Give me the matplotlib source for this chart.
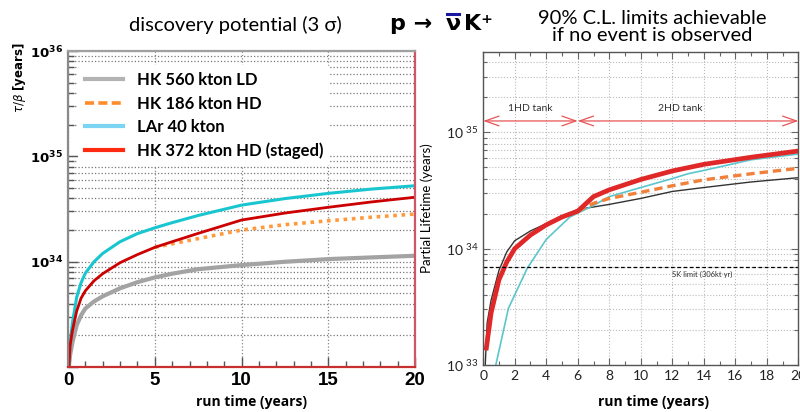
import matplotlib
matplotlib.use("Agg")
import matplotlib.pyplot as plt
from matplotlib.lines import Line2D
from matplotlib.ticker import LogLocator, NullFormatter, FixedLocator, MultipleLocator

# ---- left panel: discovery potential (3 sigma) ----
t_left = [0.05, 0.12, 0.25, 0.5, 0.75, 1, 1.5, 2, 3, 4, 5, 6, 7.5, 10, 12.5, 15, 17.5, 20]
hk560_ld = [1e33, 1.3e33, 1.7e33, 2.5e33, 3.1e33, 3.6e33, 4.2e33, 4.7e33, 5.6e33, 6.4e33,
            7.1e33, 7.7e33, 8.5e33, 9.3e33, 1.0e34, 1.06e34, 1.1e34, 1.14e34]
lar40 = [1e33, 1.7e33, 2.6e33, 4.6e33, 6.3e33, 7.8e33, 1.0e34, 1.2e34, 1.55e34, 1.85e34,
         2.1e34, 2.35e34, 2.75e34, 3.45e34, 3.98e34, 4.46e34, 4.9e34, 5.27e34]
hk372_staged = [1e33, 1.6e33, 2.2e33, 3.4e33, 4.5e33, 5.3e33, 6.6e33, 7.7e33, 9.8e33, 1.17e34,
                1.37e34, 1.55e34, 1.86e34, 2.49e34, 2.9e34, 3.29e34, 3.7e34, 4.1e34]
t_left_hd = [5, 6, 7.5, 10, 12.5, 15, 17.5, 20]
hk186_hd = [1.37e34, 1.48e34, 1.66e34, 2.0e34, 2.25e34, 2.45e34, 2.65e34, 2.84e34]

legend_labels = ["HK 560 kton LD", "HK 186 kton HD", "LAr 40 kton", "HK 372 kton HD (staged)"]

# ---- right panel: 90% C.L. limits ----
t_black = [0.13, 0.25, 0.5, 1, 1.5, 2, 3, 4, 5, 6, 7, 8, 10, 12, 14, 17, 20]
r_black = [1e33, 2.3e33, 3.6e33, 6.5e33, 9.4e33, 1.17e34, 1.42e34, 1.64e34, 1.9e34, 2.17e34,
           2.28e34, 2.4e34, 2.7e34, 3.1e34, 3.35e34, 3.74e34, 4.07e34]
t_red = [0.2, 0.5, 1, 1.5, 2, 3, 4, 5, 6, 7, 8, 10, 12, 14, 17, 20]
r_red = [1.4e33, 2.8e33, 5.4e33, 7.7e33, 1.0e34, 1.31e34, 1.6e34, 1.87e34, 2.1e34, 2.8e34,
         3.2e34, 3.93e34, 4.65e34, 5.3e34, 6.1e34, 6.9e34]
t_cyan = [0.8, 1.6, 2.8, 4, 5.5, 7, 8, 10, 12, 13, 14, 17, 20]
r_cyan = [1e33, 3.07e33, 6.8e33, 1.2e34, 1.87e34, 2.35e34, 2.8e34, 3.35e34, 4.0e34, 4.4e34,
          4.7e34, 5.8e34, 6.5e34]
t_orange = [6, 7, 8, 10, 12, 14, 17, 20]
r_orange = [2.1e34, 2.45e34, 2.7e34, 3.05e34, 3.47e34, 3.9e34, 4.4e34, 4.9e34]

sk_limit = 7e33
tank_split = 6
tank_arrow_y = 1.25e35
tank_label_y = 1.6e35

fig = plt.figure(figsize=(8, 4.12), dpi=100)
narrow = ['Liberation Sans Narrow', 'Liberation Sans', 'DejaVu Sans']
light = ['Lato', 'DejaVu Sans']

# ================= left =================
ax1 = fig.add_axes([0.085, 0.109, 0.434, 0.767])
ax1.plot(t_left, hk560_ld, color='#a3a3a3', lw=3)
ax1.plot(t_left_hd, hk186_hd, color='#ff9a3c', lw=2.6, ls=(0, (1, 1.3)))
ax1.plot(t_left, lar40, color='#19c6cf', lw=2.2)
ax1.plot(t_left, hk372_staged, color='#cc0000', lw=2.0)

ax1.set_yscale('log')
ax1.set_xlim(0, 20)
ax1.set_ylim(1e33, 1e36)
ax1.yaxis.set_major_locator(FixedLocator([1e33, 1e34, 1e35, 1e36]))
ax1.set_yticklabels(['', r'$\mathbf{10^{34}}$', r'$\mathbf{10^{35}}$', r'$\mathbf{10^{36}}$'])
ax1.yaxis.set_minor_locator(LogLocator(base=10, subs=range(2, 10)))
ax1.yaxis.set_minor_formatter(NullFormatter())
ax1.xaxis.set_major_locator(MultipleLocator(5))
ax1.xaxis.set_minor_locator(MultipleLocator(1))
ax1.tick_params(which='both', direction='in', colors='#555555', labelcolor='black')
ax1.tick_params(which='major', length=7, width=1)
ax1.tick_params(which='minor', length=4, width=1)
for lab in ax1.get_xticklabels():
    lab.set_fontfamily(narrow)
    lab.set_fontweight('bold')
    lab.set_fontsize(13.5)
for lab in ax1.get_yticklabels():
    lab.set_fontsize(9.5)
ax1.grid(which='major', axis='x', ls=':', color='#888888', lw=0.9)
ax1.grid(which='both', axis='y', ls=':', color='#777777', lw=0.9)
ax1.spines['left'].set_color('#8a8a8a')
ax1.spines['top'].set_color('#a0a0a0')
ax1.spines['right'].set_color('#d05565')
ax1.spines['bottom'].set_color('#c83030')
for s in ax1.spines.values():
    s.set_linewidth(1.6)

handles = [Line2D([], [], color='#b3b3b3', lw=3),
           Line2D([], [], color='#ff8c2a', lw=2.6, ls=(0, (2.5, 1.2))),
           Line2D([], [], color='#7dd4f2', lw=3),
           Line2D([], [], color='#ff2a12', lw=3)]
leg = ax1.legend(handles, legend_labels, loc='upper left', bbox_to_anchor=(0.02, 0.965),
                 frameon=True, facecolor='white', edgecolor='none', framealpha=1,
                 prop={'weight': 'bold', 'size': 12, 'family': light}, handlelength=2.3,
                 labelspacing=0.45, borderaxespad=0.2)

fig.text(0.024, 1 - 78 / 412, r'$\tau/\beta$ [years]', rotation=90, ha='center', va='center',
         fontsize=8.5, fontweight='bold')
fig.text(0.315, 0.025, 'run time (years)', ha='center', va='center', fontsize=10,
         fontweight='bold', family=['Open Sans', 'DejaVu Sans'])
fig.text(235 / 800, 1 - 25 / 412, 'discovery potential (3 σ)', ha='center', va='center',
         fontsize=14.5, family=light)

# center title p -> nu-bar K+
fig.text(390 / 800, 1 - 24 / 412, 'p → ', ha='left', va='center', fontsize=16, fontweight='bold')
fig.text(453 / 800, 1 - 24 / 412, 'ν', ha='center', va='center', fontsize=16, fontweight='bold')
fig.text(464 / 800, 1 - 24 / 412, 'K⁺', ha='left', va='center', fontsize=16, fontweight='bold')
fig.add_artist(Line2D([447 / 800, 459 / 800], [1 - 14 / 412, 1 - 14 / 412],
                      transform=fig.transFigure, color='#1a1aa0', lw=2.2))

# ================= right =================
ax2 = fig.add_axes([0.604, 0.114, 0.394, 0.760])
ax2.plot(t_black, r_black, color='#333333', lw=1.0)
ax2.plot(t_cyan, r_cyan, color='#5cc6cc', lw=1.2)
ax2.plot(t_orange, r_orange, color='#f0803a', lw=2.4, ls=(0, (2.5, 1.5)))
ax2.plot(t_red, r_red, color='#e02828', lw=3.4)
ax2.axhline(sk_limit, color='black', lw=0.9, ls=(0, (3, 2)))
ax2.text(12, sk_limit * 0.86, 'SK limit (306kt yr)', fontsize=5.5, va='center', ha='left',
         color='#333333', family=light)

ax2.annotate('', xy=(0, tank_arrow_y), xytext=(tank_split, tank_arrow_y),
             arrowprops=dict(arrowstyle='<->,head_length=1.0,head_width=0.35', color='#e85555', lw=0.9,
                             shrinkA=0, shrinkB=0))
ax2.annotate('', xy=(tank_split, tank_arrow_y), xytext=(20, tank_arrow_y),
             arrowprops=dict(arrowstyle='<->,head_length=1.0,head_width=0.35', color='#e85555', lw=0.9,
                             shrinkA=0, shrinkB=0))
ax2.text(tank_split / 2, tank_label_y, '1HD tank', ha='center', va='center', fontsize=7.5,
         color='#333333', family=light)
ax2.text((tank_split + 20) / 2 - 0.5, tank_label_y, '2HD tank', ha='center', va='center',
         fontsize=7.5, color='#333333', family=light)

ax2.set_yscale('log')
ax2.set_xlim(0, 20)
ax2.set_ylim(1e33, 4.9e35)
ax2.yaxis.set_major_locator(FixedLocator([1e33, 1e34, 1e35]))
ax2.set_yticklabels([r'$\mathregular{10^{\ 33}}$', r'$\mathregular{10^{\ 34}}$',
                     r'$\mathregular{10^{\ 35}}$'])
ax2.yaxis.set_minor_locator(LogLocator(base=10, subs=range(2, 10)))
ax2.yaxis.set_minor_formatter(NullFormatter())
ax2.xaxis.set_major_locator(MultipleLocator(2))
ax2.xaxis.set_minor_locator(MultipleLocator(1))
ax2.tick_params(which='both', direction='in', colors='#666666', labelcolor='#222222',
                right=True, top=True, labelsize=10)
ax2.tick_params(which='major', length=5, width=0.8)
ax2.tick_params(which='minor', length=3, width=0.8)
for lab in ax2.get_xticklabels() + ax2.get_yticklabels():
    lab.set_fontfamily(light)
ax2.grid(which='major', axis='x', ls=':', color='#bbbbbb', lw=0.8)
ax2.grid(which='both', axis='y', ls=':', color='#bbbbbb', lw=0.8)
for s in ax2.spines.values():
    s.set_color('#555555')
    s.set_linewidth(1.0)
ax2.set_ylabel('Partial Lifetime (years)', fontsize=9.5, family=light)
ax2.yaxis.set_label_coords(-0.158, 0.5)

fig.text(654 / 800, 0.025, 'run time (years)', ha='center', va='center', fontsize=10,
         fontweight='bold', family=['Open Sans', 'DejaVu Sans'])
fig.text(652 / 800, 1 - 27 / 412, '90% C.L. limits achievable\nif no event is observed',
         ha='center', va='center', fontsize=14.5, family=light, linespacing=0.95)

fig.savefig('out.png', dpi=100)
